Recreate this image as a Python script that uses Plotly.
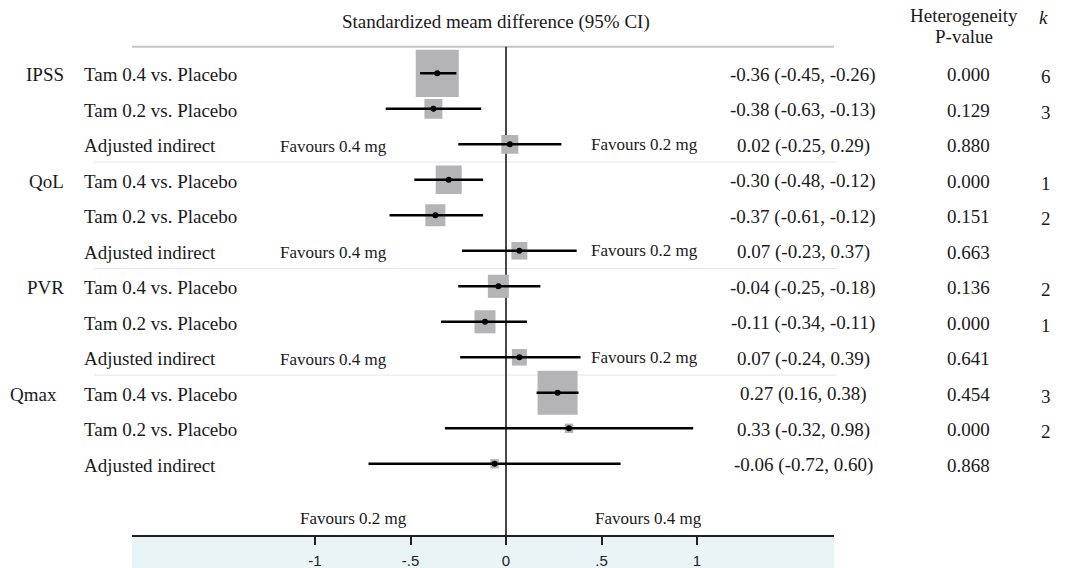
import plotly.graph_objects as go

# ---------------- data ----------------
groups = ["IPSS", "QoL", "PVR", "Qmax"]
comparisons = ["Tam 0.4 vs. Placebo", "Tam 0.2 vs. Placebo", "Adjusted indirect"] * 4
smd = [-0.36, -0.38, 0.02, -0.30, -0.37, 0.07, -0.04, -0.11, 0.07, 0.27, 0.33, -0.06]
ci_low = [-0.45, -0.63, -0.25, -0.48, -0.61, -0.23, -0.25, -0.34, -0.24, 0.16, -0.32, -0.72]
ci_high = [-0.26, -0.13, 0.29, -0.12, -0.12, 0.37, 0.18, 0.11, 0.39, 0.38, 0.98, 0.60]
ci_text = ["-0.36 (-0.45, -0.26)", "-0.38 (-0.63, -0.13)", "0.02 (-0.25, 0.29)",
           "-0.30 (-0.48, -0.12)", "-0.37 (-0.61, -0.12)", "0.07 (-0.23, 0.37)",
           "-0.04 (-0.25, -0.18)", "-0.11 (-0.34, -0.11)", "0.07 (-0.24, 0.39)",
           "0.27 (0.16, 0.38)", "0.33 (-0.32, 0.98)", "-0.06 (-0.72, 0.60)"]
het_p = ["0.000", "0.129", "0.880", "0.000", "0.151", "0.663",
         "0.136", "0.000", "0.641", "0.454", "0.000", "0.868"]
k_studies = ["6", "3", "", "1", "2", "", "2", "1", "", "3", "2", ""]
weights = [43, 18, 17, 26, 20, 16, 21, 21, 15, 40, 8.5, 8.5]
tick_vals = [-1, -0.5, 0, 0.5, 1]
tick_text = ["-1", "-.5", "0", ".5", "1"]

# ---------------- layout geometry ----------------
W, H = 1065, 568
X_L, X_R = 132, 834
Y_TOP, Y_AX = 46.7, 535
ROW0, ROW_STEP = 73.3, 35.5
ZERO_PX, PX_PER_UNIT = 506, 191

def fx(px):
    return px / W

def fy(py):
    return 1 - py / H

x_range = [(X_L - ZERO_PX) / PX_PER_UNIT, (X_R - ZERO_PX) / PX_PER_UNIT]
y_range = [(Y_AX - ROW0) / ROW_STEP, (Y_TOP - ROW0) / ROW_STEP]

SERIF = "Liberation Serif"
TXT = "#1a1a1a"
rows = list(range(len(smd)))

fig = go.Figure()

# CI lines
lx, ly = [], []
for i in rows:
    lx += [ci_low[i], ci_high[i], None]
    ly += [i, i, None]
fig.add_trace(go.Scatter(x=lx, y=ly, mode="lines",
                         line=dict(color="black", width=2.5),
                         hoverinfo="skip", showlegend=False))
# point estimates
fig.add_trace(go.Scatter(x=smd, y=rows, mode="markers",
                         marker=dict(color="black", size=6, symbol="circle"),
                         hoverinfo="skip", showlegend=False))

shapes = []
# band under the axis
shapes.append(dict(type="rect", xref="x domain", yref="paper", x0=0, x1=1,
                   y0=0, y1=fy(Y_AX), fillcolor="#e8f4f6", line=dict(width=0),
                   layer="below"))
# top rule
shapes.append(dict(type="line", xref="x domain", yref="y domain", x0=0, x1=1,
                   y0=1, y1=1, line=dict(color="#c4c4c4", width=2), layer="below"))
# group separators
for s in [2.5, 5.5, 8.5]:
    shapes.append(dict(type="line", xref="paper", yref="y", x0=fx(94), x1=fx(837),
                       y0=s, y1=s, line=dict(color="#e4e4e4", width=1), layer="below"))
# zero line
shapes.append(dict(type="line", xref="x", yref="y domain", x0=0, x1=0, y0=0, y1=1,
                   line=dict(color="#333333", width=1.8), layer="below"))
# weight boxes
for i in rows:
    hw = weights[i] / 2 / PX_PER_UNIT
    hh = weights[i] * 1.1 / 2 / ROW_STEP
    shapes.append(dict(type="rect", xref="x", yref="y",
                       x0=smd[i] - hw, x1=smd[i] + hw, y0=i - hh, y1=i + hh,
                       fillcolor="#b4b4b6", line=dict(width=0), layer="below"))

ann = []
def txt(text, x, y, yref="y", anchor="left", size=19, italic=False):
    ann.append(dict(text=text, xref="paper", yref=yref, x=x, y=y,
                    xanchor=anchor, yanchor="middle", showarrow=False,
                    font=dict(family=SERIF, size=size, color=TXT,
                              style="italic" if italic else "normal")))

# headers
txt("Standardized meam difference (95% CI)", fx(496), fy(22), yref="paper", anchor="center")
txt("Heterogeneity", fx(964), fy(15), yref="paper", anchor="center")
txt("P-value", fx(964), fy(36), yref="paper", anchor="center")
txt("k", fx(1043), fy(17), yref="paper", anchor="center", italic=True)

# group labels
group_right = [65.5, 65.5, 65.5, 58.5]
for g, name in enumerate(groups):
    txt(name, fx(group_right[g]), g * 3 + 0.04, anchor="right")

for i in rows:
    txt(comparisons[i], fx(82), i + 0.04)
    txt(ci_text[i], fx(803), i + 0.04, anchor="center")
    txt(het_p[i], fx(968), i + 0.04, anchor="center")
    if k_studies[i]:
        txt(k_studies[i], fx(1046), i + 0.1, anchor="center")

# favours labels on indirect rows (except last group)
for i in [2, 5, 8]:
    txt("Favours 0.4 mg", fx(277.6), i + 0.05, size=17)
    txt("Favours 0.2 mg", fx(588.5), i, size=17)

# favours labels above axis
txt("Favours 0.2 mg", fx(353), fy(518), yref="paper", anchor="center", size=17)
txt("Favours 0.4 mg", fx(648), fy(518), yref="paper", anchor="center", size=17)

fig.update_layout(
    width=W, height=H,
    margin=dict(l=0, r=0, t=0, b=0),
    paper_bgcolor="white", plot_bgcolor="white",
    shapes=shapes, annotations=ann, showlegend=False,
    xaxis=dict(domain=[fx(X_L), fx(X_R)], range=x_range, showgrid=False,
               zeroline=False, showline=True, linecolor="#222222", linewidth=2,
               ticks="outside", ticklen=8, tickwidth=1.5, tickcolor="#222222",
               tickvals=tick_vals, ticktext=tick_text, ticklabelstandoff=3,
               tickfont=dict(family="Liberation Sans", size=15, color="#222222"),
               fixedrange=True),
    yaxis=dict(domain=[fy(Y_AX), fy(Y_TOP)], range=y_range, visible=False,
               fixedrange=True),
)

fig.write_html("out.html", config={"displayModeBar": False},
               post_script="document.body.style.margin='0';document.body.style.overflow='hidden';")
